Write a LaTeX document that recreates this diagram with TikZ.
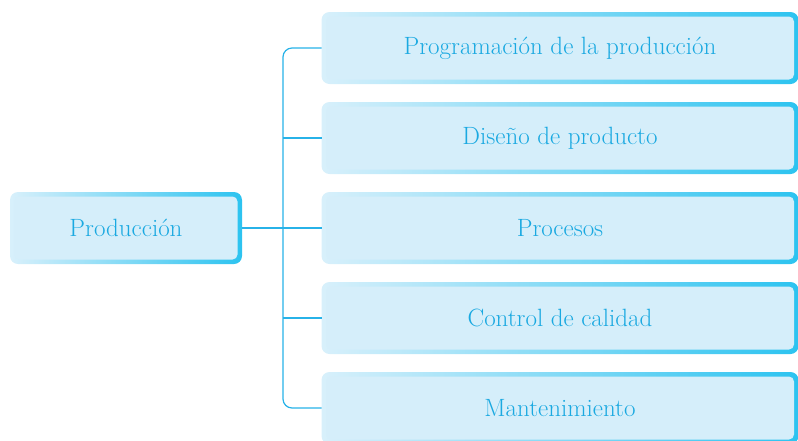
\documentclass[tikz,border=0pt]{standalone}
\usepackage{fontspec}
\setmainfont{Latin Modern Roman}
\usetikzlibrary{positioning}
\definecolor{boxfill}{HTML}{D5EEFA}
\definecolor{bordL}{HTML}{D8F0FB}
\definecolor{bordR}{HTML}{2CC3F0}
\definecolor{txt}{HTML}{1AA9E1}
\definecolor{linec}{HTML}{27B2E8}
\tikzset{
  box/.style={rounded corners=8pt, inner sep=0pt, outer sep=0pt,
    minimum height=72pt, text=txt, font=\fontsize{25}{30}\selectfont,
    left color=bordL, right color=bordR,
    path picture={\fill[boxfill, rounded corners=5pt]
      ([shift={(4.5pt,-4.5pt)}]path picture bounding box.north west) rectangle
      ([shift={(-4.5pt,4.5pt)}]path picture bounding box.south east);}},
  conn/.style={draw=linec, line width=1.2pt}
}
\begin{document}
\begin{tikzpicture}[x=1pt,y=-1pt]
\useasboundingbox (0,0) rectangle (798,440);
\node[box, minimum width=232pt] (prod) at (126,228) {Producción};
\node[box, minimum width=477pt] (p1) at (560,48) {Programación de la producción};
\node[box, minimum width=477pt] (p2) at (560,138) {Diseño de producto};
\node[box, minimum width=477pt] (p3) at (560,228) {Procesos};
\node[box, minimum width=477pt] (p4) at (560,318) {Control de calidad};
\node[box, minimum width=477pt] (p5) at (560,408) {Mantenimiento};
\coordinate (bus) at (283,228);
\draw[conn, rounded corners=9pt] (p1.west) -| (bus) |- (p5.west);
\draw[conn] (p2.west) -- (p2.west -| bus);
\draw[conn] (p4.west) -- (p4.west -| bus);
\draw[conn] (prod.east) -- (p3.west);
\end{tikzpicture}
\end{document}
